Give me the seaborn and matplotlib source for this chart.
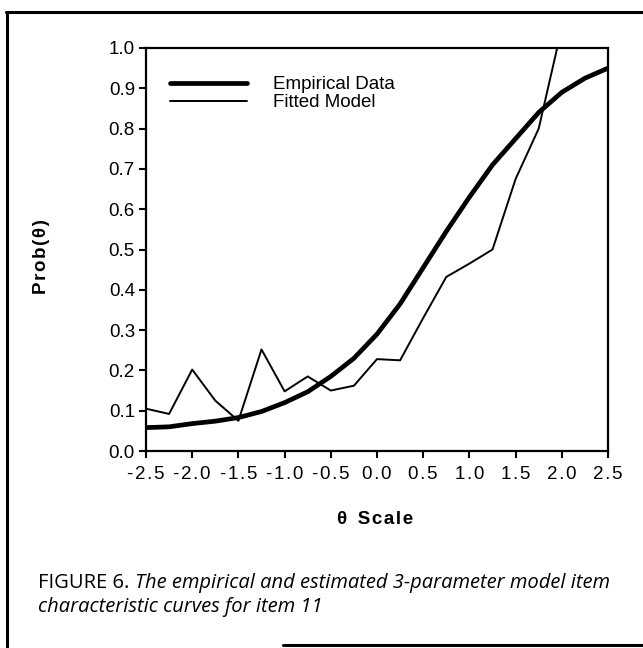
import numpy as np
import matplotlib
matplotlib.use("Agg")
import matplotlib.pyplot as plt
from matplotlib.lines import Line2D
import seaborn as sns

# Ability scale points
theta = [-2.5, -2.25, -2.0, -1.75, -1.5, -1.25, -1.0, -0.75, -0.5, -0.25,
         0.0, 0.25, 0.5, 0.75, 1.0, 1.25, 1.5, 1.75, 2.0, 2.25, 2.5]

# Smooth curve (legend: Empirical Data)
empirical = [0.058, 0.060, 0.068, 0.074, 0.083, 0.098, 0.120, 0.147, 0.185, 0.230,
             0.290, 0.365, 0.455, 0.545, 0.630, 0.710, 0.775, 0.840, 0.890, 0.925, 0.950]

# Jagged curve (legend: Fitted Model)
theta_fit = [-2.5, -2.25, -2.0, -1.75, -1.5, -1.25, -1.0, -0.75, -0.5, -0.25,
             0.0, 0.25, 0.5, 0.75, 1.0, 1.25, 1.5, 1.75, 2.0]
fitted = [0.105, 0.092, 0.202, 0.125, 0.075, 0.252, 0.148, 0.185, 0.150, 0.162,
          0.228, 0.225, 0.330, 0.432, 0.465, 0.500, 0.675, 0.800, 1.050]

x_ticks = [-2.5, -2.0, -1.5, -1.0, -0.5, 0.0, 0.5, 1.0, 1.5, 2.0, 2.5]
x_tick_labels = ["-2.5", "-2.0", "-1.5", "-1.0", "-0.5", "0.0", "0.5", "1.0", "1.5", "2.0", "2.5"]
y_ticks = [0.0, 0.1, 0.2, 0.3, 0.4, 0.5, 0.6, 0.7, 0.8, 0.9, 1.0]
y_tick_labels = ["0.0", "0.1", "0.2", "0.3", "0.4", "0.5", "0.6", "0.7", "0.8", "0.9", "1.0"]


def tracked(s):
    """Loosely letter-spaced text, like the old typesetting."""
    return "\u200a".join(s)


sns.set_style("ticks")
plt.rcParams['font.family'] = ['Liberation Sans', 'DejaVu Sans']

W, H = 643, 648
fig = plt.figure(figsize=(W / 100, H / 100), dpi=100)
fig.patch.set_facecolor("white")

left, right, top, bottom = 146, 608, 48, 451
ax = fig.add_axes([left / W, 1 - bottom / H, (right - left) / W, (bottom - top) / H])

sns.lineplot(x=theta, y=empirical, ax=ax, color="black", lw=3.4,
             label="Empirical Data", sort=False)
sns.lineplot(x=theta_fit, y=fitted, ax=ax, color="black", lw=1.4,
             label="Fitted Model", sort=False)

ax.set_xlim(-2.5, 2.5)
ax.set_ylim(0.0, 1.0)
ax.set_xticks(x_ticks)
ax.set_xticklabels([tracked(s) for s in x_tick_labels])
ax.set_yticks(y_ticks)
ax.set_yticklabels(y_tick_labels)
ax.set_xlabel("")
ax.set_ylabel("")

for side in ["left", "right", "top", "bottom"]:
    ax.spines[side].set_visible(True)
    ax.spines[side].set_color("black")
    ax.spines[side].set_linewidth(1.6)

ax.tick_params(axis="both", direction="out", length=5, width=1.5,
               colors="black", labelsize=13.5)
ax.tick_params(axis="y", pad=3)
ax.tick_params(axis="x", pad=6)

leg = ax.legend(loc="upper left", bbox_to_anchor=(0.052, 0.930), frameon=False,
                fontsize=13.5, handlelength=4.1, handletextpad=1.39,
                labelspacing=0.05, borderpad=0, borderaxespad=0)
for t in leg.get_texts():
    t.set_color("black")

# Axis titles
fig.text(42 / W, 1 - 257 / H, tracked("Prob(θ)"), rotation=90, ha="center",
         va="center", fontsize=13.5, fontweight="bold", color="black")
fig.text(375 / W, 1 - 520 / H, "θ  " + tracked("Scale"), ha="center", va="center",
         fontsize=13.5, fontweight="bold", color="black")

# Caption
cap_font = ["Open Sans", "DejaVu Sans"]
cap_size = 14.5
fig.canvas.draw()
renderer = fig.canvas.get_renderer()
lead = fig.text(38 / W, 1 - 588 / H, "FIGURE 6. ", ha="left", va="baseline",
                fontsize=cap_size, family=cap_font, color="black")
bb = lead.get_window_extent(renderer=renderer)
fig.text(bb.x1 / W, 1 - 588 / H,
         "The empirical and estimated 3-parameter model item",
         ha="left", va="baseline", fontsize=cap_size, style="italic", family=cap_font,
         color="black")
fig.text(38 / W, 1 - 612 / H, "characteristic curves for item 11",
         ha="left", va="baseline", fontsize=cap_size, style="italic", family=cap_font,
         color="black")

# Page frame lines
fig.add_artist(Line2D([6 / W, 1.0], [1 - 12 / H, 1 - 12 / H],
                      transform=fig.transFigure, color="black", lw=2.2))
fig.add_artist(Line2D([7 / W, 7 / W], [1 - 12 / H, 0.0],
                      transform=fig.transFigure, color="black", lw=2.2))
fig.add_artist(Line2D([283 / W, 1.0], [1 - 645 / H, 1 - 645 / H],
                      transform=fig.transFigure, color="black", lw=2.2))

fig.savefig("out.png", dpi=100, facecolor="white")
